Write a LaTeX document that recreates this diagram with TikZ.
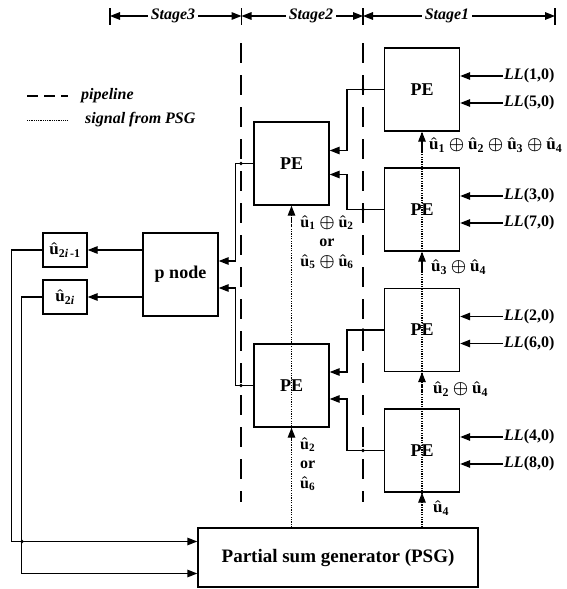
\documentclass[tikz,border=0pt]{standalone}
\usepackage{amsmath}
\usepackage{fontspec}
\setmainfont{Liberation Serif}
\usetikzlibrary{arrows.meta,calc}
\newcommand\myu[1]{\boldsymbol{\hat{\textbf{u}}}_{\textbf{#1}}}
\newcommand\xo{\mathbin{\boldsymbol{\oplus}}}
\begin{document}
\begin{tikzpicture}[x=1pt,y=-1pt,
  box/.style={draw, line width=1.4pt, inner sep=0pt, minimum width=75pt, minimum height=83pt, font=\fontsize{18}{20}\selectfont\bfseries},
  sbox/.style={draw, line width=1.4pt, inner sep=0pt, minimum width=44pt, minimum height=34pt, font=\fontsize{17}{20}\selectfont\bfseries},
  sig/.style={line width=1.4pt},
  arr/.style={sig,-{Triangle[length=10pt,width=7.5pt]}},
  pipe/.style={line width=1.3pt, dash pattern=on 20pt off 12pt},
  psgl/.style={line width=1.3pt, dash pattern=on 1.2pt off 1.2pt},
  psga/.style={psgl,-{Triangle[length=10pt,width=7.5pt]}},
  llf/.style={anchor=west, inner sep=1pt, font=\fontsize{16}{18}\selectfont\bfseries},
  stf/.style={inner sep=3pt, font=\fontsize{16}{18}\selectfont\bfseries\itshape},
  hatf/.style={inner sep=1pt, font=\fontsize{17}{20}\selectfont\bfseries}
]
\useasboundingbox (0,0) rectangle (566,589);

% stage bar
\coordinate (t0) at (110,16);
\coordinate (t1) at (241.5,16);
\coordinate (t2) at (363,16);
\coordinate (t3) at (555,16);
\foreach \c in {t0,t1,t2,t3} \draw[sig] ([yshift=8pt]\c) -- ([yshift=-9pt]\c);
\node[stf] (st3) at (173,16) {Stage3};
\node[stf] (st2) at (311,16) {Stage2};
\node[stf] (st1) at (447,16) {Stage1};
\draw[arr] (st3.west) -- (t0);
\draw[arr] (st3.east) -- (t1);
\draw[arr] (st2.west) -- (t1);
\draw[arr] (st2.east) -- (t2);
\draw[arr] (st1.west) -- (t2);
\draw[arr] (st1.east) -- (t3);

% legend
\coordinate (lg1a) at (27,96);
\coordinate (lg1b) at (68,96);
\coordinate (lg2a) at (27,120);
\coordinate (lg2b) at (68,120);
\draw[line width=1.3pt, dash pattern=on 11pt off 6pt] (lg1a) -- (lg1b);
\draw[line width=0.9pt, dash pattern=on 1pt off 0.8pt] (lg2a) -- (lg2b);
\node[stf, anchor=west, inner sep=1pt] (lgt1) at (80,96) {pipeline};
\node[stf, anchor=west, inner sep=1pt] (lgt2) at (84,120) {signal from PSG};

% pipeline lines
\draw[pipe] (241,43) -- (241,502);
\draw[pipe] (363,43) -- (363,502);

% boxes
\node[box] (pe1) at (422,89.5) {PE};
\node[box] (pe2) at (422,209.5) {PE};
\node[box] (pe3) at (422,330) {PE};
\node[box] (pe4) at (422,450.5) {PE};
\node[box] (s2a) at (291.5,163.5) {PE};
\node[box] (s2b) at (291.5,385.5) {PE};
\node[box] (pn) at (180.5,274.5) {p node};
\node[sbox] (b1) at (65,250) {$\myu{2\textit{i}\,-1}$};
\node[sbox] (b2) at (65,297) {$\myu{2\textit{i}}$};
\node[draw, line width=1.4pt, minimum width=280pt, minimum height=59pt, inner sep=0pt, font=\fontsize{19}{22}\selectfont\bfseries] (psg) at (338,557.5) {Partial sum generator (PSG)};

% LL inputs
\node[llf] (ll1) at (503,76) {\textit{LL}(1,0)};
\node[llf] (ll5) at (503,103) {\textit{LL}(5,0)};
\node[llf] (ll3) at (503,196) {\textit{LL}(3,0)};
\node[llf] (ll7) at (503,223) {\textit{LL}(7,0)};
\node[llf] (ll2) at (503,316.5) {\textit{LL}(2,0)};
\node[llf] (ll6) at (503,343.5) {\textit{LL}(6,0)};
\node[llf] (ll4) at (503,437) {\textit{LL}(4,0)};
\node[llf] (ll8) at (503,464) {\textit{LL}(8,0)};
\draw[arr] (ll1.west) -- (ll1.west -| pe1.east);
\draw[arr] (ll5.west) -- (ll5.west -| pe1.east);
\draw[arr] (ll3.west) -- (ll3.west -| pe2.east);
\draw[arr] (ll7.west) -- (ll7.west -| pe2.east);
\draw[arr] (ll2.west) -- (ll2.west -| pe3.east);
\draw[arr] (ll6.west) -- (ll6.west -| pe3.east);
\draw[arr] (ll4.west) -- (ll4.west -| pe4.east);
\draw[arr] (ll8.west) -- (ll8.west -| pe4.east);

% stage1 -> stage2
\draw[arr] (pe1.west) -- ++(-37,0) |- ([yshift=13pt]s2a.east);
\draw[arr] (pe2.west) -- ++(-37,0) |- ([yshift=-11pt]s2a.east);
\draw[arr] (pe3.west) -- ++(-37,0) |- ([yshift=13.5pt]s2b.east);
\draw[arr] (pe4.west) -- ++(-37,0) |- ([yshift=-13.5pt]s2b.east);

% stage2 -> p node
\draw[arr] (s2a.west) -- ++(-18,0) |- ([yshift=13.5pt]pn.east);
\draw[arr] (s2b.west) -- ++(-18,0) |- ([yshift=-13.5pt]pn.east);

% p node -> outputs
\draw[arr] (b1 -| pn.west) -- (b1.east);
\draw[arr] (b2 -| pn.west) -- (b2.east);

% feedback to PSG
\draw[arr] (b1.west) -- ++(-31,0) |- ([yshift=16pt]psg.west);
\draw[arr] (b2.west) -- ++(-21,0) |- ([yshift=-16pt]psg.west);

% junction dots
\foreach \p in {(363,89.5),(363,209.5),(363,330),(363,450.5),(241,163.5),(241,385.5),(22,541.5)}
  \fill \p circle (1.8pt);

% PSG signal lines
\draw[psgl] (pe4.south |- psg.north) -- (pe1.south);
\draw[psga] ($(pe4.south)+(0,20)$) -- (pe4.south);
\draw[psga] ($(pe3.south)+(0,20)$) -- (pe3.south);
\draw[psga] ($(pe2.south)+(0,20)$) -- (pe2.south);
\draw[psga] ($(pe1.south)+(0,20)$) -- (pe1.south);
\draw[psgl] (s2b.south |- psg.north) -- (s2a.south);
\draw[psga] ($(s2b.south)+(0,20)$) -- (s2b.south);
\draw[psga] ($(s2a.south)+(0,20)$) -- (s2a.south);

% labels
\node[hatf, anchor=west] (lab1) at (428,145) {$\myu1 \xo \myu2 \xo \myu3 \xo \myu4$};
\node[hatf, anchor=west] (lab2) at (430,267) {$\myu3 \xo \myu4$};
\node[hatf, anchor=west] (lab3) at (432,389) {$\myu2 \xo \myu4$};
\node[hatf, anchor=west] (lab4) at (432,508) {$\myu4$};
\node[hatf, align=center, font=\fontsize{16}{18}\selectfont\bfseries] (lab5) at (327,242) {$\myu1 \xo \myu2$\\[1pt] or\\[2pt] $\myu5 \xo \myu6$};
\node[hatf, align=left, anchor=west, font=\fontsize{16}{18}\selectfont\bfseries] (lab6) at (299,464) {$\myu2$\\[1pt] or\\[2pt] $\myu6$};
\end{tikzpicture}
\end{document}
